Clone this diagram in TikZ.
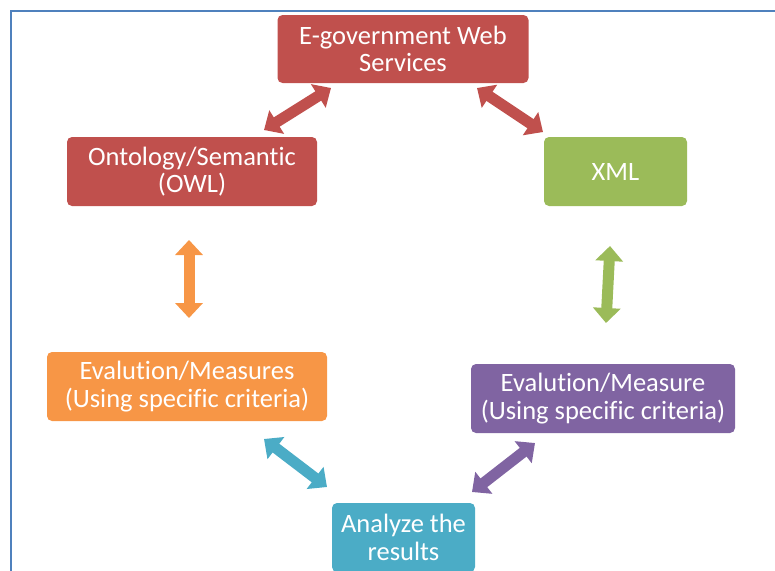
\documentclass[tikz,border=0pt]{standalone}
\usepackage{fontspec}
\setmainfont{Carlito}[Ligatures=NoCommon]
\usetikzlibrary{arrows.meta}
\definecolor{cred}{HTML}{C0504D}
\definecolor{cgreen}{HTML}{9BBB59}
\definecolor{corange}{HTML}{F79646}
\definecolor{cpurple}{HTML}{8064A2}
\definecolor{cteal}{HTML}{4BACC6}
\definecolor{cframe}{HTML}{4F81BD}
\begin{document}
\begin{tikzpicture}[x=1pt,y=-1pt,
  box/.style={rounded corners=5pt, text=white, align=center, inner sep=0pt,
    font=\fontsize{26.5}{27.5}\selectfont},
  dbl/.style={line width=11pt, {Triangle[length=15pt,width=27pt]}-{Triangle[length=15pt,width=27pt]}}]
\useasboundingbox (0,0) rectangle (775,570);
\clip (0,0) rectangle (775,570);
\draw[cframe, line width=2.5pt] (11,580) -- (11,11) -- (790,11);
\node[box, fill=cred, minimum width=251pt, minimum height=68pt] (egov) at (403,49) {E-government Web\\Services};
\node[box, fill=cred, minimum width=250pt, minimum height=69pt] (onto) at (192,171.5) {Ontology/Semantic\\(OWL)};
\node[box, fill=cgreen, minimum width=143pt, minimum height=69pt] (xml) at (615.5,171.5) {XML};
\node[box, fill=corange, minimum width=280pt, minimum height=69pt] (evalo) at (187,386.5) {Evalution/Measures\\(Using specific criteria)};
\node[box, fill=cpurple, minimum width=264pt, minimum height=69pt] (evalp) at (603,398.5) {Evalution/Measure\\(Using specific criteria)};
\node[box, fill=cteal, minimum width=143pt, minimum height=69pt] (ana) at (403.5,537.5) {Analyze the\\results};
% arrow end points
\coordinate (r1a) at (331,88);  \coordinate (r1b) at (264,130);
\coordinate (r2a) at (477,88);  \coordinate (r2b) at (543,132);
\coordinate (o1a) at (189,240); \coordinate (o1b) at (189,318);
\coordinate (g1a) at (610,246); \coordinate (g1b) at (606,323);
\coordinate (t1a) at (264,439); \coordinate (t1b) at (327,487);
\coordinate (p1a) at (535,443); \coordinate (p1b) at (472,492);
\draw[dbl, cred] (r1a) -- (r1b);
\draw[dbl, cred] (r2a) -- (r2b);
\draw[dbl, corange] (o1a) -- (o1b);
\draw[dbl, cgreen] (g1a) -- (g1b);
\draw[dbl, cteal] (t1a) -- (t1b);
\draw[dbl, cpurple] (p1a) -- (p1b);
\end{tikzpicture}
\end{document}
